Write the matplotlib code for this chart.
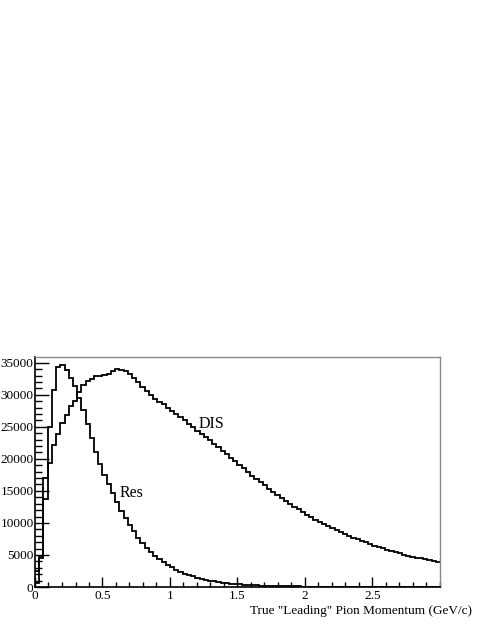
import numpy as np
import matplotlib
matplotlib.use("Agg")
import matplotlib.pyplot as plt
from matplotlib.ticker import MultipleLocator

# 96 bins between 0 and 3 GeV/c
x_lo, x_hi, n_bins = 0.0, 3.0, 96

dis_counts = [
    600, 4500, 13800, 19300, 22100, 23900, 25600, 26900, 28200, 29000,
    30500, 31500, 32100, 32500, 32900, 33000, 33150, 33300, 33650, 34050,
    33800, 33650, 33200, 32700, 32000, 31200, 30600, 30000, 29400, 28900,
    28500, 28000, 27500, 27000, 26500, 26000, 25400, 24900, 24400, 23900,
    23400, 22900, 22300, 21800, 21200, 20700, 20100, 19600, 19100, 18500,
    18000, 17400, 16900, 16400, 15900, 15300, 14800, 14300, 13900, 13400,
    12900, 12500, 12100, 11700, 11300, 10900, 10500, 10150, 9800, 9500,
    9200, 8900, 8600, 8300, 8000, 7700, 7450, 7200, 6950, 6700,
    6450, 6250, 6050, 5850, 5650, 5450, 5250, 5050, 4900, 4750,
    4600, 4450, 4300, 4150, 4000, 3900,
]

res_counts = [
    2500, 4800, 17000, 25000, 30800, 34300, 34700, 33900, 32600, 31300,
    29500, 27600, 25400, 23300, 21000, 19200, 17500, 16000, 14600, 13200,
    11900, 10800, 9700, 8700, 7700, 6900, 6100, 5500, 4900, 4400,
    3900, 3450, 3050, 2700, 2400, 2100, 1850, 1650, 1450, 1280,
    1130, 1000, 880, 780, 690, 610, 540, 480, 420, 370,
    330, 290, 260, 230, 200, 180, 160, 140, 125, 110,
    100, 90, 80, 70, 62, 55, 48, 42, 37, 33,
    29, 25, 22, 19, 17, 15, 13, 11, 10, 9,
    8, 7, 6, 5, 5, 4, 4, 3, 3, 3,
    2, 2, 2, 2, 1, 1,
]

x_ticks = [0, 0.5, 1, 1.5, 2, 2.5]
x_tick_labels = ["0", "0.5", "1", "1.5", "2", "2.5"]
y_ticks = [0, 5000, 10000, 15000, 20000, 25000, 30000, 35000]

edges = np.linspace(x_lo, x_hi, n_bins + 1)

plt.rcParams['font.family'] = ['Liberation Serif', 'DejaVu Serif']

fig = plt.figure(figsize=(4.85, 6.28), dpi=100)
ax = fig.add_axes([35 / 485, 41 / 628, 405 / 485, 230 / 628])

ax.stairs(dis_counts, edges, baseline=None, color="black", linewidth=1.3)
ax.stairs(res_counts, edges, baseline=None, color="black", linewidth=1.3)

ax.set_xlim(x_lo, x_hi)
ax.set_ylim(0, 35900)

ax.set_xticks(x_ticks)
ax.set_xticklabels(x_tick_labels)
ax.set_yticks(y_ticks)
ax.set_yticklabels([str(v) for v in y_ticks])
ax.xaxis.set_minor_locator(MultipleLocator(0.1))
ax.yaxis.set_minor_locator(MultipleLocator(1000))

ax.tick_params(axis="both", which="both", direction="in", top=False, right=False,
               labelsize=9.5, colors="black")
ax.tick_params(axis="x", which="major", length=7, width=1, pad=2)
ax.tick_params(axis="x", which="minor", length=3.5, width=1)
ax.tick_params(axis="y", which="major", length=10, width=1, pad=1)
ax.tick_params(axis="y", which="minor", length=5, width=1)

for side in ["top", "right"]:
    ax.spines[side].set_color("#888888")
    ax.spines[side].set_linewidth(1)
for side in ["left", "bottom"]:
    ax.spines[side].set_color("black")
    ax.spines[side].set_linewidth(1.2)

ax.text(1.21, 24800, "DIS", fontsize=11.5)
ax.text(0.63, 14060, "Res", fontsize=11.5)

fig.text(472 / 485, 1 - 614 / 628, 'True "Leading" Pion Momentum (GeV/c)',
         ha="right", va="baseline", fontsize=9.5)

fig.savefig("out.png", dpi=100)
